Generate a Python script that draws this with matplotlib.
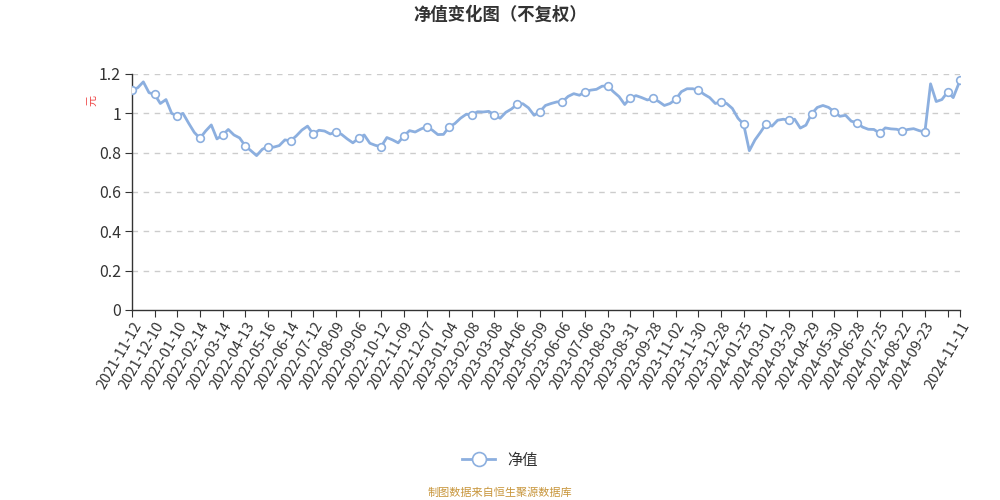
import matplotlib
matplotlib.use("Agg")
import matplotlib.pyplot as plt
from matplotlib.lines import Line2D
import numpy as np

plt.rcParams['font.family'] = ['Noto Sans CJK SC', 'DejaVu Sans']

# trading-day index of each sampled value (every 5 days, last day 731)
day_index = list(range(0, 730, 5)) + [731]

nav = [
    1.118, 1.13, 1.16, 1.105, 1.096, 1.05, 1.07, 1.00, 0.986, 1.00,
    0.95, 0.903, 0.873, 0.91, 0.941, 0.87, 0.89, 0.918, 0.89, 0.875,
    0.834, 0.81, 0.785, 0.817, 0.831, 0.828, 0.836, 0.865, 0.86, 0.885,
    0.915, 0.935, 0.894, 0.914, 0.91, 0.895, 0.905, 0.893, 0.87, 0.85,
    0.873, 0.89, 0.848, 0.837, 0.831, 0.877, 0.865, 0.85, 0.885, 0.912,
    0.905, 0.92, 0.932, 0.915, 0.892, 0.893, 0.931, 0.948, 0.975, 0.995,
    0.992, 1.008, 1.007, 1.01, 0.992, 0.975, 1.005, 1.022, 1.046, 1.049,
    1.028, 0.99, 1.008, 1.04, 1.05, 1.058, 1.059, 1.086, 1.10, 1.092,
    1.11, 1.118, 1.122, 1.138, 1.139, 1.11, 1.085, 1.045, 1.079, 1.09,
    1.08, 1.068, 1.076, 1.06, 1.04, 1.05, 1.071, 1.11, 1.125, 1.125,
    1.118, 1.097, 1.08, 1.05, 1.059, 1.05, 1.025, 0.975, 0.944, 0.81,
    0.865, 0.905, 0.948, 0.935, 0.965, 0.97, 0.965, 0.97, 0.925, 0.94,
    0.998, 1.03, 1.04, 1.03, 1.007, 0.985, 0.99, 0.96, 0.953, 0.93,
    0.919, 0.918, 0.899, 0.926, 0.921, 0.919, 0.91, 0.918, 0.922, 0.912,
    0.905, 1.15, 1.06, 1.07, 1.108, 1.08, 1.167,
]

tick_labels = [
    '2021-11-12', '2021-12-10', '2022-01-10', '2022-02-14', '2022-03-14',
    '2022-04-13', '2022-05-16', '2022-06-14', '2022-07-12', '2022-08-09',
    '2022-09-06', '2022-10-12', '2022-11-09', '2022-12-07', '2023-01-04',
    '2023-02-08', '2023-03-08', '2023-04-06', '2023-05-09', '2023-06-06',
    '2023-07-06', '2023-08-03', '2023-08-31', '2023-09-28', '2023-11-02',
    '2023-11-30', '2023-12-28', '2024-01-25', '2024-03-01', '2024-03-29',
    '2024-04-29', '2024-05-30', '2024-06-28', '2024-07-25', '2024-08-22',
    '2024-09-23', '', '2024-11-11',
]
tick_pos = list(range(0, 721, 20)) + [731]

line_color = '#8cafdf'

fig = plt.figure(figsize=(10, 5), dpi=100)
ax = fig.add_axes([0.132, 0.38, 0.828, 0.472])

x = np.array(day_index)
y = np.array(nav)
marks = [i for i, d in enumerate(day_index) if d % 20 == 0] + [len(day_index) - 1]
ax.plot(x, y, color=line_color, lw=2, zorder=3)
ax.plot(x[marks], y[marks], 'o', ms=5.5, mfc='white', mec=line_color, mew=1.2, zorder=4)

ax.set_xlim(0, 731)
ax.set_ylim(0, 1.2)
ax.set_yticks([0, 0.2, 0.4, 0.6, 0.8, 1.0, 1.2])
ax.set_yticklabels(['0', '0.2', '0.4', '0.6', '0.8', '1', '1.2'])
for v in [0.2, 0.4, 0.6, 0.8, 1.0, 1.2]:
    ax.axhline(v, color='#cccccc', lw=1, ls=(0, (4, 4)), zorder=1)

ax.set_xticks(tick_pos)
ax.set_xticklabels(tick_labels, rotation=60, ha='right', rotation_mode='anchor')

for side in ['top', 'right']:
    ax.spines[side].set_visible(False)
for side in ['left', 'bottom']:
    ax.spines[side].set_color('#333333')
    ax.spines[side].set_linewidth(1)
ax.tick_params(axis='y', labelsize=11.5, colors='#333333', length=5, pad=3)
ax.tick_params(axis='x', labelsize=10.5, colors='#333333', length=5, pad=2)

ax.text(-0.048, 0.89, '元', transform=ax.transAxes, rotation=90,
        ha='center', va='center', color='#ee4444', fontsize=8)

fig.text(0.5, 0.97, '净值变化图（不复权）', ha='center', va='center',
         fontsize=12.5, fontweight='bold', color='#333333')

handle = Line2D([], [], color=line_color, lw=2, marker='o', ms=10,
                mfc='white', mec=line_color, mew=1.2)
fig.legend([handle], ['净值'], loc='center', bbox_to_anchor=(0.5, 0.08),
           frameon=False, fontsize=11, handlelength=2.2, labelcolor='#333333')

fig.text(0.5, 0.015, '制图数据来自恒生聚源数据库', ha='center', va='center',
         fontsize=8, color='#c8963c')

fig.savefig('out.png', dpi=100)
